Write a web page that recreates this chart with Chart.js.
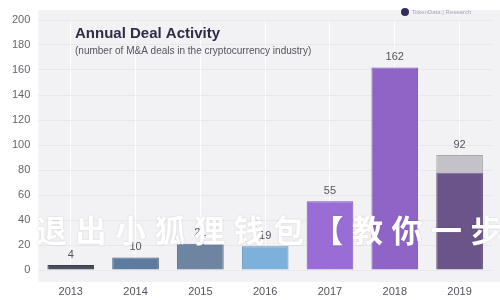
<!DOCTYPE html>
<html>
<head>
<meta charset="utf-8">
<script src="https://cdn.jsdelivr.net/npm/chart.js@4"></script>
<style>
    html, body { margin: 0; padding: 0; background: #ffffff; }
    #wrap { width: 500px; height: 300px; position: relative; }
</style>
</head>
<body>
<div id="wrap"><canvas id="chart1" width="500" height="300"></canvas></div>
<script>
// Datos del gráfico
const YEARS = ['2013', '2014', '2015', '2016', '2017', '2018', '2019'];
const DEALS = [4, 10, 21, 19, 55, 162, 78];
const DEALS_EXTRA = [0, 0, 0, 0, 0, 0, 14];
const TOTALS = [4, 10, 21, 19, 55, 162, 92];
const BAR_COLORS = ['#4b4e5e', '#5d7b9f', '#6d85a0', '#7db0da', '#9a6cd6', '#8f64c7', '#6b5488'];
const BORDER_COLORS = ['#3a3c48', '#4c6585', '#586e88', '#6690b5', '#7e56b5', '#7650a8', '#564370'];
const EXTRA_COLOR = '#c4c2c8';
const TITLE = 'Annual Deal Activity';
const SUBTITLE = '(number of M&A deals in the cryptocurrency industry)';
const BRAND = 'TokenData | Research';
const OVERLAY = '退出小狐狸钱包【教你一步';

// Fondo gris del área de trazado
const fondoPlugin = {
    id: 'fondo',
    beforeDraw: (chart) => {
        const { ctx, chartArea } = chart;
        ctx.save();
        ctx.fillStyle = '#f2f2f4';
        ctx.fillRect(chartArea.left, chartArea.top - 10, chartArea.right - chartArea.left + 10, chartArea.bottom - chartArea.top + 22);
        ctx.restore();
    }
};

// Etiquetas de valores, título y textos superpuestos
const textosPlugin = {
    id: 'textos',
    afterDatasetsDraw: (chart) => {
        const { ctx } = chart;
        const meta = chart.getDatasetMeta(1);
        const metaBase = chart.getDatasetMeta(0);
        ctx.save();
        ctx.fillStyle = '#55535e';
        ctx.font = '11px "Liberation Sans", Arial, sans-serif';
        ctx.textAlign = 'center';
        ctx.textBaseline = 'bottom';
        TOTALS.forEach((value, i) => {
            const bar = DEALS_EXTRA[i] > 0 ? meta.data[i] : metaBase.data[i];
            ctx.fillText(value, bar.x, bar.y - 5);
        });
        ctx.restore();
    },
    afterDraw: (chart) => {
        const { ctx } = chart;
        ctx.save();
        ctx.textBaseline = 'alphabetic';
        ctx.textAlign = 'left';
        ctx.fillStyle = '#2e2c47';
        ctx.font = 'bold 15px "Liberation Sans", Arial, sans-serif';
        ctx.fillText(TITLE, 75, 38);
        ctx.fillStyle = '#55535e';
        ctx.font = '10px "Liberation Sans", Arial, sans-serif';
        ctx.fillText(SUBTITLE, 75, 54);
        // Logo
        ctx.fillStyle = '#2f2d5a';
        ctx.beginPath();
        ctx.arc(405, 12, 4, 0, Math.PI * 2);
        ctx.fill();
        ctx.fillStyle = '#a8a8b8';
        ctx.font = '6px "Liberation Sans", Arial, sans-serif';
        ctx.fillText(BRAND, 412, 14);
        // Texto superpuesto
        ctx.font = 'bold 31px "Noto Sans CJK SC", sans-serif';
        ctx.fillStyle = '#ffffff';
        ctx.shadowColor = 'rgba(0,0,0,0.15)';
        ctx.shadowBlur = 2;
        const chars = Array.from(OVERLAY);
        chars.forEach((c, i) => {
            ctx.fillText(c, 36 + i * 39.5, 242);
        });
        ctx.restore();
    }
};

new Chart(document.getElementById('chart1').getContext('2d'), {
    type: 'bar',
    data: {
        labels: YEARS,
        datasets: [{
            label: 'Deals',
            data: DEALS,
            backgroundColor: BAR_COLORS,
            borderColor: BORDER_COLORS,
            borderWidth: 1,
            barPercentage: 0.72,
            categoryPercentage: 1
        }, {
            label: 'Deals (extra)',
            data: DEALS_EXTRA,
            backgroundColor: EXTRA_COLOR,
            borderColor: '#a9a7ae',
            borderWidth: 1,
            barPercentage: 0.72,
            categoryPercentage: 1
        }]
    },
    options: {
        responsive: false,
        animation: false,
        layout: { padding: { top: 20, right: 8, left: 4, bottom: 0 } },
        plugins: {
            legend: { display: false },
            tooltip: { enabled: false }
        },
        scales: {
            x: {
                stacked: true,
                afterFit: (scale) => { scale.height = 30; },
                grid: { color: 'rgba(255,255,255,0.9)', drawTicks: false, offset: false },
                border: { display: false },
                ticks: { color: '#55535e', font: { size: 11, family: '"Liberation Sans", Arial, sans-serif' }, padding: 15 }
            },
            y: {
                stacked: true,
                min: 0,
                max: 200,
                grid: { color: 'rgba(225,225,230,0.6)', drawTicks: false },
                border: { display: false },
                ticks: { stepSize: 20, color: '#66646e', font: { size: 11, family: '"Liberation Sans", Arial, sans-serif' }, padding: 8 }
            }
        }
    },
    plugins: [fondoPlugin, textosPlugin]
});
</script>
</body>
</html>
